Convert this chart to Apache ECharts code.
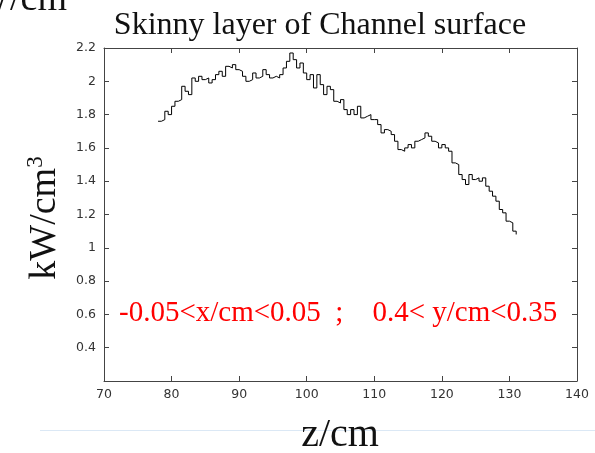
<!DOCTYPE html>
<html>
<head>
<meta charset="utf-8">
<script src="https://cdn.jsdelivr.net/npm/echarts@6/dist/echarts.min.js"></script>
<style>
  html, body { margin: 0; padding: 0; background: #fff; }
  #chart { width: 595px; height: 453px; }
</style>
</head>
<body>
<div id="chart"></div>
<script>
// z position (cm), 0.5 cm bins
const zVals = [
  78, 78.5, 79, 79.5, 80, 80.5, 81, 81.5, 82, 82.5, 83, 83.5, 84, 84.5, 85, 85.5,
  86, 86.5, 87, 87.5, 88, 88.5, 89, 89.5, 90, 90.5, 91, 91.5, 92, 92.5, 93, 93.5,
  94, 94.5, 95, 95.5, 96, 96.5, 97, 97.5, 98, 98.5, 99, 99.5, 100, 100.5, 101, 101.5,
  102, 102.5, 103, 103.5, 104, 104.5, 105, 105.5, 106, 106.5, 107, 107.5, 108, 108.5,
  109, 109.5, 110, 110.5, 111, 111.5, 112, 112.5, 113, 113.5, 114, 114.5, 115, 115.5,
  116, 116.5, 117, 117.5, 118, 118.5, 119, 119.5, 120, 120.5, 121, 121.5, 122, 122.5,
  123, 123.5, 124, 124.5, 125, 125.5, 126, 126.5, 127, 127.5, 128, 128.5, 129, 129.5,
  130, 130.5, 131
]
// power density kW/cm^3
const kwVals = [
  1.76, 1.77, 1.82, 1.80, 1.85, 1.88, 1.89, 1.97, 1.94, 1.92, 2.02, 2.00, 2.03, 2.01, 2.02, 1.99,
  2.01, 2.04, 2.06, 2.03, 2.09, 2.08, 2.10, 2.07, 2.06, 2.03, 2.00, 2.01, 2.05, 2.02, 2.03, 2.07,
  2.04, 2.02, 2.03, 2.02, 2.04, 2.08, 2.12, 2.17, 2.13, 2.08, 2.11, 2.05, 2.01, 2.04, 1.96, 2.04,
  1.98, 1.92, 1.97, 1.95, 1.88, 1.87, 1.89, 1.83, 1.80, 1.83, 1.80, 1.85, 1.78, 1.79,
  1.80, 1.77, 1.77, 1.74, 1.69, 1.71, 1.70, 1.68, 1.64, 1.59, 1.58, 1.60, 1.62, 1.60,
  1.64, 1.65, 1.66, 1.69, 1.67, 1.64, 1.63, 1.60, 1.62, 1.60, 1.58, 1.51, 1.50, 1.44,
  1.41, 1.38, 1.44, 1.41, 1.42, 1.40, 1.42, 1.37, 1.34, 1.31, 1.28, 1.23, 1.21, 1.16,
  1.15, 1.10, 1.08
]
const xTicks = [70, 80, 90, 100, 110, 120, 130, 140]
const yTicks = [0.4, 0.6, 0.8, 1, 1.2, 1.4, 1.6, 1.8, 2, 2.2]

const chart = echarts.init(document.getElementById('chart'))

const axisColor = '#444'
const tickFont = { color: '#333', fontSize: 12.5, fontFamily: 'DejaVu Sans' }
const serif = 'Liberation Serif'

const option = {
  animation: false,
  backgroundColor: '#fff',
  grid: { left: 104, right: 18, top: 48, bottom: 72 },
  xAxis: [
    {
      type: 'value',
      min: xTicks[0],
      max: xTicks[xTicks.length - 1],
      interval: 10,
      axisLine: { lineStyle: { color: axisColor, width: 1 } },
      axisTick: { inside: true, length: 5, lineStyle: { color: axisColor } },
      axisLabel: { ...tickFont, margin: 7 },
      splitLine: { show: false }
    },
    {
      type: 'value',
      position: 'top',
      min: xTicks[0],
      max: xTicks[xTicks.length - 1],
      interval: 10,
      axisLine: { lineStyle: { color: axisColor, width: 1 } },
      axisTick: { inside: true, length: 5, lineStyle: { color: axisColor } },
      axisLabel: { show: false },
      splitLine: { show: false }
    }
  ],
  yAxis: [
    {
      type: 'value',
      min: 0.2,
      max: yTicks[yTicks.length - 1],
      interval: 0.2,
      axisLine: { show: true, lineStyle: { color: axisColor, width: 1 } },
      axisTick: { show: true, inside: true, length: 5, lineStyle: { color: axisColor } },
      axisLabel: {
        ...tickFont,
        margin: 8,
        formatter: v => (yTicks.some(t => Math.abs(t - v) < 1e-6) ? String(+v.toFixed(1)) : '')
      },
      splitLine: { show: false }
    },
    {
      type: 'value',
      position: 'right',
      min: 0.2,
      max: yTicks[yTicks.length - 1],
      interval: 0.2,
      axisLine: { show: true, lineStyle: { color: axisColor, width: 1 } },
      axisTick: { show: true, inside: true, length: 5, lineStyle: { color: axisColor } },
      axisLabel: { show: false },
      splitLine: { show: false }
    }
  ],
  series: [
    {
      type: 'line',
      step: 'end',
      data: zVals.map((z, i) => [z, kwVals[i]]),
      showSymbol: false,
      lineStyle: { color: '#000', width: 1 }
    }
  ],
  graphic: [
    {
      type: 'text',
      x: 320,
      y: 26,
      style: {
        text: 'Skinny layer of Channel surface',
        font: `32px "${serif}"`,
        fill: '#111',
        align: 'center',
        verticalAlign: 'middle'
      }
    },
    // cut-off text at top-left corner
    {
      type: 'text',
      x: 67,
      y: 0,
      style: { text: 'W/cm', font: `38px "${serif}"`, fill: '#111', align: 'right', verticalAlign: 'middle' }
    },
    {
      type: 'text',
      x: 45,
      y: 218,
      rotation: Math.PI / 2,
      style: {
        text: '{a|kW/cm}{s|3}',
        align: 'center',
        verticalAlign: 'middle',
        rich: {
          a: { font: `38px "${serif}"`, fill: '#111' },
          s: { font: `23px "${serif}"`, fill: '#111', verticalAlign: 'top', padding: [0, 0, 18, 0] }
        }
      }
    },
    {
      type: 'text',
      x: 119,
      y: 313,
      style: {
        text: '-0.05<x/cm<0.05  ;    0.4< y/cm<0.35',
        font: `29px "${serif}"`,
        fill: '#ff0000',
        align: 'left',
        verticalAlign: 'middle'
      }
    },
    {
      type: 'line',
      shape: { x1: 40, y1: 430.5, x2: 595, y2: 430.5 },
      style: { stroke: '#dbe8f5', lineWidth: 1 },
      z: -1
    },
    {
      type: 'text',
      x: 340,
      y: 435,
      style: { text: 'z/cm', font: `40px "${serif}"`, fill: '#111', align: 'center', verticalAlign: 'middle' }
    }
  ]
}

chart.setOption(option)
</script>
</body>
</html>
